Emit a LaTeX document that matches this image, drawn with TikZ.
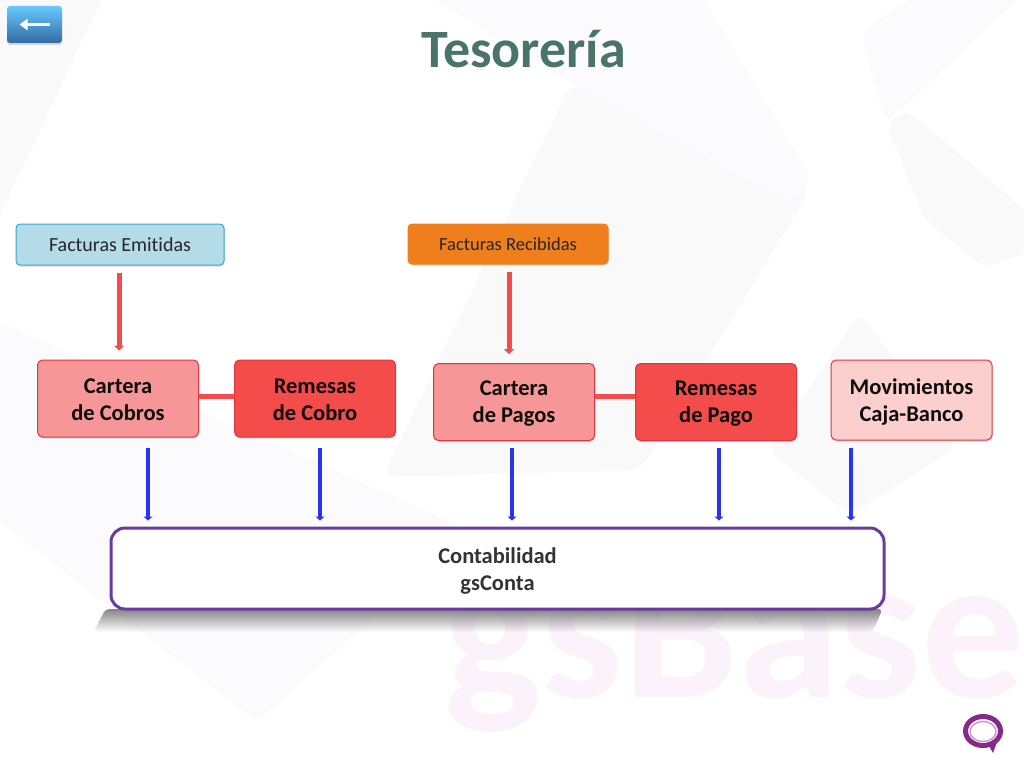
\documentclass[tikz,border=0pt]{standalone}
\usepackage{fontspec}
\setmainfont[Ligatures=NoCommon]{Carlito}
\usetikzlibrary{arrows.meta,shadows,fadings,shapes.geometric}
\definecolor{tituloverde}{HTML}{4A7468}
\definecolor{rojoclaro}{HTML}{F79696}
\definecolor{rojofuerte}{HTML}{F44B4B}
\definecolor{rojoborde}{HTML}{E03440}
\definecolor{rosaclaro}{HTML}{FCCFCF}
\definecolor{azulclaro}{HTML}{B4DCE8}
\definecolor{azulborde}{HTML}{3AA4CC}
\definecolor{naranja}{HTML}{EE7F1C}
\definecolor{azulflecha}{HTML}{2A34F0}
\definecolor{morado}{HTML}{6A3A9E}
\definecolor{logomorado}{HTML}{86288C}
\definecolor{fondogrisc}{HTML}{F9F9F9}
\definecolor{fondolila}{HTML}{FBFAFD}
\definecolor{marcaagua}{HTML}{FBF2FB}
\newcommand{\alto}[1]{\rule{0pt}{#1pt}}
\tikzset{
	caja/.style={rectangle,rounded corners=5pt,draw=rojoborde,line width=1pt,
		align=center,font=\fontsize{22.5}{27}\selectfont\bfseries,text=black!95,
		minimum width=161pt,minimum height=77pt,inner sep=0pt,
		drop shadow={shadow xshift=0.5pt,shadow yshift=-1.5pt,opacity=0.25}},
	factura/.style={rectangle,rounded corners=4pt,line width=1pt,
		font=\fontsize{20}{24}\selectfont,text=black!85,inner sep=0pt,
		drop shadow={shadow xshift=0.5pt,shadow yshift=-1.5pt,opacity=0.25}},
	flecharoja/.style={draw=rojofuerte,line width=5pt,
		-{Triangle[width=10pt,length=5pt]},shorten <=7pt,shorten >=9pt},
	flechaazul/.style={draw=azulflecha,line width=4pt,
		-{Triangle[width=9pt,length=4pt]},shorten <=10pt,shorten >=6pt},
	enlace/.style={draw=rojofuerte,line width=5pt},
	fondogris/.style={fill=fondogrisc,rounded corners=12pt},
	fondorosa/.style={fill=fondolila,rounded corners=12pt}
}
\begin{document}
\begin{tikzpicture}[x=1pt,y=-1pt]
	\useasboundingbox (0,0) rectangle (1024,768);
	\fill[white] (0,0) rectangle (1024,768);
	\fill[fondogris] (-40,-40) -- (120,-40) -- (-40,300) -- cycle;
	\fill[fondogris] (571,83) -- (810,190) -- (640,470) -- (383,477) -- cycle;
	\fill[fondorosa] (370,-40) -- (680,-40) -- (812,180) -- (790,205) -- (571,83) -- cycle;
	\fill[fondorosa] (860,32) -- (925,-10) -- (1060,-40) -- (886,123) -- cycle;
	\fill[fondogris] (886,123) -- (907,110) -- (1060,240) -- (985,268) -- (925,220) -- cycle;
	\fill[fondorosa] (-40,305) -- (470,530) -- (257,722) -- (-40,490) -- cycle;
	\fill[fondogris] (860,312) -- (957,447) -- (850,515) -- (768,450) -- cycle;
	\node[text=marcaagua,font=\fontsize{205}{205}\selectfont\bfseries,anchor=base west,inner sep=0pt] (marca) at (444,697) {gsBase};
	\node[text=tituloverde,font=\fontsize{54}{54}\selectfont\bfseries] (titulo) at (523.5,49) {Tesorería};
	\node[rectangle,rounded corners=3pt,top color=blue!35!cyan!60!white,middle color=blue!50!cyan!55!black!80!white,bottom color=blue!50!cyan!55!black!80!white,
		minimum width=55pt,minimum height=37pt,inner sep=0pt,drop shadow={shadow xshift=0pt,shadow yshift=-2pt,opacity=0.3}] (volver) at (34.5,24.5) {};
	\draw[white,line width=3.5pt,-{Triangle[width=11pt,length=8pt]}] ([xshift=15pt]volver.center) -- ([xshift=-15pt]volver.center);

	\node[factura,draw=azulborde,fill=azulclaro,minimum width=208pt,minimum height=41pt] (emitidas) at (120,244.5) {Facturas Emitidas};
	\node[factura,draw=naranja,fill=naranja,minimum width=200pt,minimum height=40pt,font=\fontsize{18.5}{22}\selectfont] (recibidas) at (508,244) {Facturas Recibidas};

	\node[caja,fill=rojoclaro] (cobros) at (118,398.5) {\alto{17}Cartera\\de Cobros};
	\node[caja,fill=rojofuerte] (remcobro) at (315,398.5) {\alto{17}Remesas\\de Cobro};
	\node[caja,fill=rojoclaro] (pagos) at (514,402) {\alto{18}Cartera\\de Pagos};
	\node[caja,fill=rojofuerte] (rempago) at (716,402) {\alto{18}Remesas\\de Pago};
	\node[caja,fill=rosaclaro,minimum height=80pt] (caja) at (911.5,400) {\alto{19}Movimientos\\Caja-Banco};

	\fill[black!48,rounded corners=4pt,path fading=south] (106,609) -- (884,609) -- (874,632) -- (94,632) -- cycle;
	\node[rectangle,rounded corners=14pt,draw=morado,line width=3pt,fill=white,minimum width=773pt,minimum height=81pt,
		align=center,font=\fontsize{22.5}{27}\selectfont\bfseries,text=black!80] (conta) at (497.5,568.5) {\alto{21}Contabilidad\\gsConta};

	\draw[flecharoja] ([xshift=-1pt]emitidas.south) -- ([xshift=1pt]cobros.north);
	\draw[flecharoja] ([xshift=1pt]recibidas.south) -- ([xshift=-5pt]pagos.north);
	\draw[enlace] ([yshift=2.5pt]cobros.east) -- ([yshift=2.5pt]remcobro.west);
	\draw[enlace] ([yshift=6pt]pagos.east) -- ([yshift=6pt]rempago.west);

	\draw[flechaazul] ([xshift=30pt]cobros.south) -- ([xshift=30pt]cobros.south |- conta.north);
	\draw[flechaazul] ([xshift=5pt]remcobro.south) -- ([xshift=5pt]remcobro.south |- conta.north);
	\draw[flechaazul,shorten <=7pt] ([xshift=-2pt]pagos.south) -- ([xshift=-2pt]pagos.south |- conta.north);
	\draw[flechaazul,shorten <=7pt] ([xshift=3pt]rempago.south) -- ([xshift=3pt]rempago.south |- conta.north);
	\draw[flechaazul,shorten <=7pt] ([xshift=-60.5pt]caja.south) -- ([xshift=-60.5pt]caja.south |- conta.north);

	\fill[logomorado] (988,744) -- (993,753) -- (997,742) -- cycle;
	\node[ellipse,draw=logomorado,line width=5pt,fill=white,minimum width=35pt,minimum height=29pt,inner sep=0pt] (logo) at (983,731) {};
	\node[ellipse,draw=logomorado!45,line width=1.5pt,minimum width=26pt,minimum height=20pt,inner sep=0pt] (logointerior) at (983,731.5) {};
\end{tikzpicture}
\end{document}
